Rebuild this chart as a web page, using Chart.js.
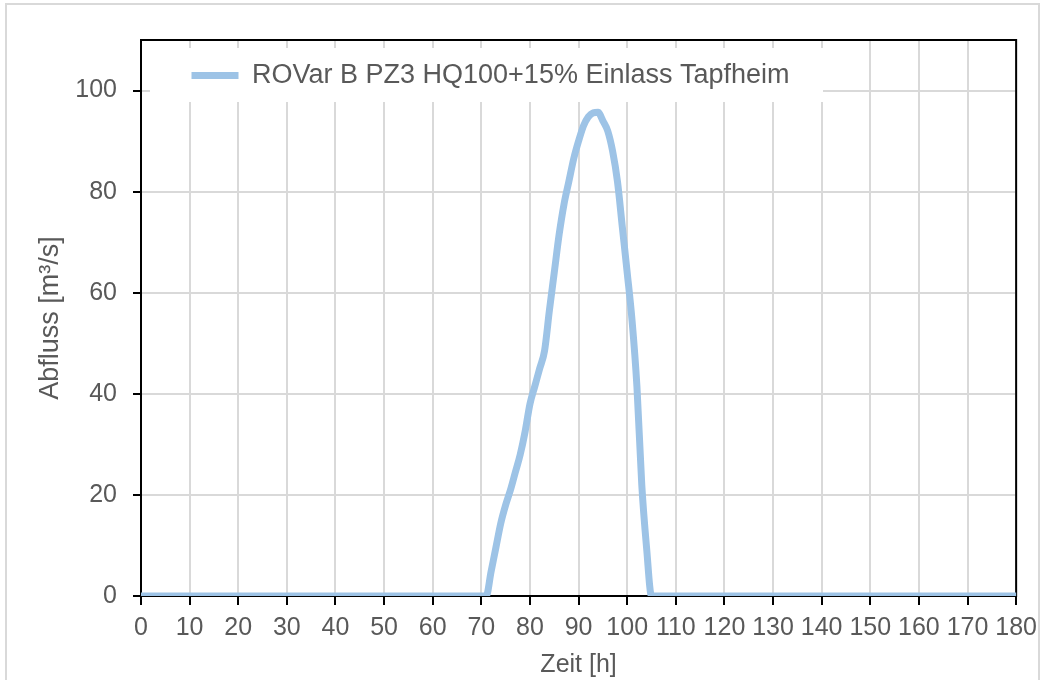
<!DOCTYPE html>
<html>
<head>
<meta charset="utf-8">
<script src="https://cdn.jsdelivr.net/npm/chart.js@4.4.1/dist/chart.umd.min.js"></script>
<style>
  html, body { margin: 0; padding: 0; background: #fff; }
  #wrap { position: relative; width: 1045px; height: 680px; overflow: hidden; }
  #frame { position: absolute; left: 5px; top: 3px; width: 1035px; height: 700px; border: 2px solid #d9d9d9; box-sizing: border-box; pointer-events: none; }
</style>
</head>
<body>
<div id="wrap">
  <canvas id="chartHQ" width="1045" height="680"></canvas>
  <div id="frame"></div>
</div>
<script>
// Ganglinie Einlass Tapfheim (Zeit in h, Abfluss in m³/s)
const seriesName = 'ROVar B PZ3 HQ100+15% Einlass Tapfheim';
const hours = [0, 71, 72, 73, 74, 75, 76, 77, 78, 79, 80, 81, 82, 83, 84, 85, 86, 87, 88, 89, 90,
  91, 92, 93, 94, 95, 96, 97, 98, 99, 100, 101, 102, 103, 104, 105, 180];
const abfluss = [0, 0, 4.8, 9.6, 14.4, 18, 21, 24.5, 28, 32.5, 38, 41.5, 45, 48.5, 56.5, 64, 71.5, 77.5, 82, 86.5, 90,
  93, 94.8, 95.6, 95.7, 94, 92, 88, 82, 73, 64, 54.5, 41.5, 22, 9.4, 0, 0];
const xTicks = { min: 0, max: 180, step: 10 };
const yTicks = { min: 0, max: 110, step: 20, lastLabel: 100 };

const FONT = "'Liberation Sans', Arial, sans-serif";
const GREY = '#595959';
const LINE = '#9dc3e6';

// Rahmen um die Zeichenfläche + weißer Legendenkasten
const plotFrame = {
  id: 'plotFrame',
  afterLayout(chart) {
    const lg = chart.legend;
    lg.left = chart.chartArea.left + 40.5;
    lg.top = chart.chartArea.top + 12;
  },
  beforeDatasetsDraw(chart) {
    const { ctx, chartArea: a } = chart;
    ctx.save();
    ctx.fillStyle = '#fff';
    ctx.fillRect(a.left + 9, a.top + 8, 673, 54);
    ctx.restore();
    chart.legend.draw();
    ctx.save();
    ctx.strokeStyle = '#000';
    ctx.lineWidth = 2;
    ctx.strokeRect(a.left, a.top, a.right - a.left, a.bottom - a.top);
    ctx.restore();
  }
};

new Chart(document.getElementById('chartHQ'), {
  type: 'line',
  data: {
    datasets: [{
      label: seriesName,
      data: hours.map((h, i) => ({ x: h, y: abfluss[i] })),
      borderColor: LINE,
      backgroundColor: LINE,
      borderWidth: 7,
      borderCapStyle: 'round',
      borderJoinStyle: 'round',
      pointRadius: 0,
      pointStyle: 'line',
      cubicInterpolationMode: 'monotone',
      fill: false
    }]
  },
  options: {
    responsive: false,
    animation: false,
    layout: { padding: { left: 0, top: 40, right: 28, bottom: 0 } },
    plugins: {
      legend: {
        position: 'chartArea',
        align: 'start',
        labels: {
          color: GREY,
          font: { family: FONT, size: 27 },
          usePointStyle: true,
          pointStyle: 'line',
          pointStyleWidth: 47,
          padding: 10
        }
      },
      tooltip: { enabled: false }
    },
    scales: {
      x: {
        type: 'linear',
        min: xTicks.min,
        max: xTicks.max,
        afterFit: s => { s.height = 84; },
        ticks: { stepSize: xTicks.step, color: GREY, font: { family: FONT, size: 25 }, padding: 8, maxRotation: 0, autoSkip: false },
        grid: { color: '#d9d9d9', lineWidth: 2, tickColor: '#000', tickWidth: 2, tickLength: 9 },
        border: { color: '#000', width: 2 },
        title: { display: true, text: 'Zeit [h]', color: GREY, font: { family: FONT, size: 25 }, padding: { top: 0, bottom: 0 } }
      },
      y: {
        min: yTicks.min,
        max: yTicks.max,
        afterFit: s => { s.width = 141; },
        afterBuildTicks: s => { s.ticks = s.ticks.filter(t => t.value <= yTicks.lastLabel); },
        ticks: { stepSize: yTicks.step, color: GREY, font: { family: FONT, size: 25 }, padding: 16 },
        grid: { color: '#d9d9d9', lineWidth: 2, tickColor: '#000', tickWidth: 2, tickLength: 8 },
        border: { color: '#000', width: 2 },
        title: { display: true, text: 'Abfluss [m³/s]', color: GREY, font: { family: FONT, size: 27 }, padding: { top: 34, bottom: 0 } }
      }
    }
  },
  plugins: [plotFrame]
});
</script>
</body>
</html>
